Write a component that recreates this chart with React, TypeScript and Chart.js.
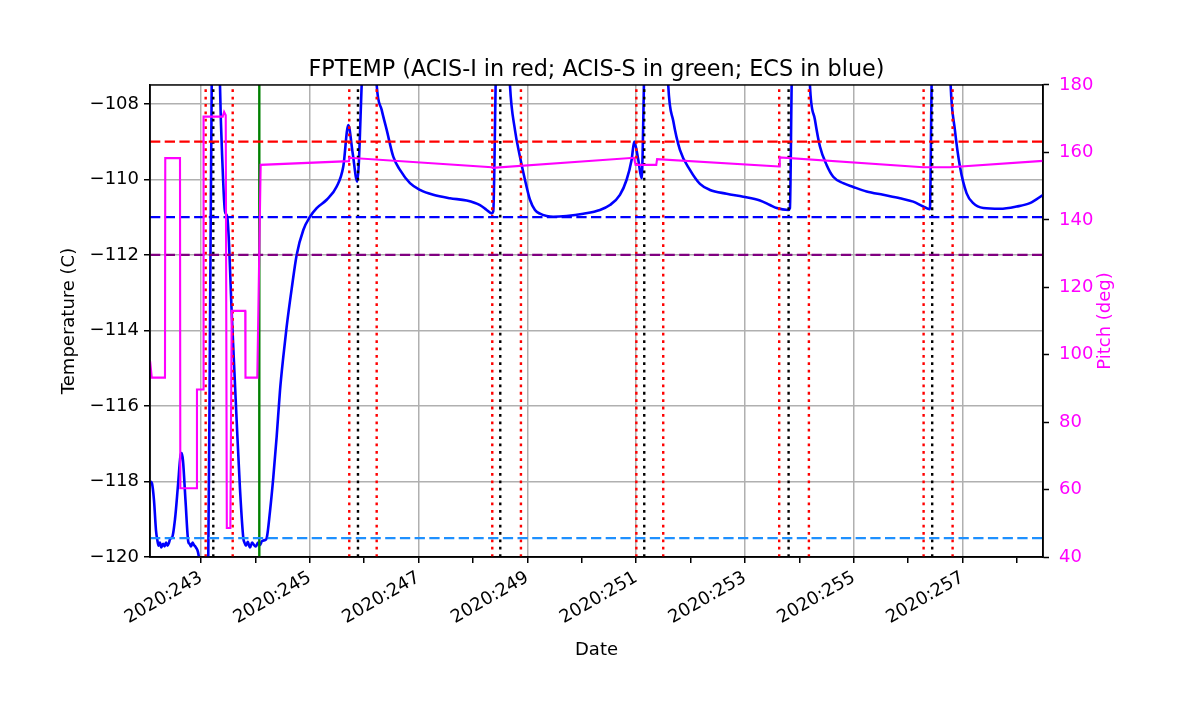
import React, { useEffect, useRef } from 'react';
import { Chart, registerables } from 'chart.js';

Chart.register(...registerables);

// ---- Data (day-of-year 2020) ----
const fpDays = [
  242.072, 242.099, 242.136, 242.173, 242.197, 242.220, 242.246, 242.270, 242.302, 242.330,
  242.357, 242.385, 242.412, 242.440, 242.461, 242.522, 242.577, 242.623, 242.645, 242.669,
  242.715, 242.767, 242.790, 242.816, 242.845, 242.871, 242.908, 242.945, 242.969, 243.000,
  243.092, 243.134, 243.165, 243.197, 243.239, 243.313, 243.349, 243.395, 243.441, 243.484,
  243.570, 243.656, 243.717, 243.778, 243.800, 243.827, 243.860, 243.901, 243.940, 243.974,
  244.010, 244.048, 244.085, 244.121, 244.180, 244.208, 244.268, 244.329, 244.392, 244.452,
  244.513, 244.575, 244.667, 244.759, 244.881, 245.004, 245.127, 245.311, 245.495, 245.616,
  245.708, 245.789, 245.873, 245.954, 246.033, 246.125, 246.230, 246.322, 246.414, 246.535,
  246.658, 246.842, 247.026, 247.270, 247.577, 247.884, 248.129, 248.252, 248.344, 248.373,
  248.417, 248.460, 248.588, 248.680, 248.772, 248.864, 248.956, 249.048, 249.140, 249.232,
  249.355, 249.476, 249.722, 250.028, 250.335, 250.518, 250.702, 250.825, 250.917, 250.965,
  251.039, 251.101, 251.143, 251.180, 251.511, 251.590, 251.682, 251.805, 251.989, 252.173,
  252.357, 252.664, 252.969, 253.276, 253.460, 253.583, 253.796, 253.827, 253.859, 253.901,
  254.121, 254.195, 254.287, 254.379, 254.502, 254.623, 254.807, 254.991, 255.237, 255.542,
  255.850, 256.094, 256.278, 256.401, 256.432, 256.475, 256.714, 256.782, 256.860, 256.953,
  257.076, 257.197, 257.381, 257.688, 257.995, 258.239, 258.484,
];
const fpTemp = [
  -118.0, -118.05, -118.5, -119.3, -119.55, -119.7, -119.62, -119.75, -119.65, -119.72,
  -119.62, -119.7, -119.62, -119.5, -119.5, -119.0, -118.1, -117.32, -117.25, -117.45,
  -118.5, -119.6, -119.65, -119.72, -119.62, -119.68, -119.75, -119.87, -120.1, -120.7,
  -120.8, -120.0, -114.0, -107.5, -104.0, -104.0, -107.5, -109.6, -110.85, -111.0,
  -113.7, -116.4, -118.2, -119.5, -119.62, -119.7, -119.6, -119.75, -119.62, -119.68,
  -119.72, -119.62, -119.68, -119.58, -119.55, -119.5, -118.8, -117.9, -116.8, -115.6,
  -114.7, -113.9, -112.9, -112.0, -111.34, -110.99, -110.76, -110.54, -110.19, -109.66,
  -108.56, -109.31, -110.06, -107.5, -104.0, -104.0, -107.5, -108.16, -108.69, -109.4,
  -109.75, -110.1, -110.28, -110.41, -110.5, -110.56, -110.68, -110.81, -110.9, -110.85,
  -107.5, -104.0, -104.0, -107.5, -108.69, -109.4, -110.01, -110.54, -110.81, -110.91,
  -110.97, -110.99, -110.97, -110.91, -110.81, -110.68, -110.41, -110.01, -109.48, -109.0,
  -109.48, -109.97, -107.5, -104.0, -104.0, -107.5, -108.45, -109.22, -109.75, -110.12,
  -110.28, -110.38, -110.46, -110.56, -110.68, -110.76, -110.81, -110.76, -107.5, -104.0,
  -104.0, -107.5, -108.42, -109.13, -109.62, -109.93, -110.1, -110.2, -110.32, -110.41,
  -110.5, -110.59, -110.72, -110.79, -107.5, -104.0, -104.0, -107.5, -108.69, -109.66,
  -110.37, -110.63, -110.76, -110.78, -110.72, -110.63, -110.41,
];

const pitchDays = [
  242.065, 242.095, 242.338, 242.343, 242.614, 242.620, 242.921, 242.926, 243.042, 243.047,
  243.399, 243.425, 243.455, 243.475, 243.540, 243.565, 243.813, 243.818, 244.035, 244.097,
  245.720, 245.730, 248.345, 248.360, 250.960, 250.990, 251.370, 251.385, 253.630, 253.640,
  256.276, 256.770, 258.480,
];
const pitchDeg = [
  98.0, 93.2, 93.2, 158.3, 158.3, 60.4, 60.4, 89.7, 89.7, 170.6,
  170.6, 172.0, 171.0, 48.6, 48.6, 113.0, 113.0, 93.2, 93.2, 156.3,
  157.4, 158.4, 155.6, 155.4, 158.4, 156.3, 156.3, 158.0, 155.8, 158.5,
  155.6, 155.6, 157.5,
];

const redDotDays = [243.086, 243.583, 245.726, 246.230, 248.355, 248.882, 251.004, 251.498, 253.630, 254.176, 256.285, 256.818];
const blackDotDays = [243.226, 245.886, 248.502, 251.149, 253.803, 256.443];
const greenDays = [244.072];

const limitValues = [-109, -111, -112, -119.5];
const limitColors = ['red', 'blue', 'purple', 'dodgerblue'];

const xMin = 242.0625;
const xMax = 258.48;
const tempMin = -120;
const tempMax = -107.5;
const pitchMin = 40;
const pitchMax = 180;

const TITLE = 'FPTEMP (ACIS-I in red; ACIS-S in green; ECS in blue)';
const PITCH_LABEL = 'Pitch (deg)';
const FONT = 'DejaVu Sans';
const TICK_SIZE = 18;

const framePlugin = {
  id: 'frame',
  afterDatasetsDraw(chart: any) {
    const { ctx, chartArea: a } = chart;
    ctx.save();
    ctx.strokeStyle = '#000';
    ctx.lineWidth = 1.5;
    ctx.strokeRect(a.left, a.top, a.right - a.left, a.bottom - a.top);
    ctx.restore();
  },
};

// right-axis title drawn reading bottom-to-top (like matplotlib)
const pitchTitlePlugin = {
  id: 'pitchTitle',
  afterDraw(chart: any) {
    const s = chart.scales.y1;
    const a = chart.chartArea;
    const ctx = chart.ctx;
    ctx.save();
    ctx.translate(s.right - (TICK_SIZE * 1.2) / 2 - 4, (a.top + a.bottom) / 2);
    ctx.rotate(-Math.PI / 2);
    ctx.fillStyle = 'magenta';
    ctx.font = `${TICK_SIZE}px "${FONT}"`;
    ctx.textAlign = 'center';
    ctx.textBaseline = 'middle';
    ctx.fillText(PITCH_LABEL, 0, 0);
    ctx.restore();
  },
};

export default function App() {
  const ref = useRef<HTMLCanvasElement | null>(null);

  useEffect(() => {
    if (!ref.current) return;
    Chart.defaults.font.family = FONT;
    Chart.defaults.color = '#000';

    const dotted = [2.78, 4.6];
    const dashed = [10.3, 4.4];

    const vline = (d: number, color: string, dash: number[], width: number) => ({
      type: 'line' as const,
      data: [{ x: d, y: tempMin }, { x: d, y: tempMax }],
      borderColor: color,
      borderWidth: width,
      borderDash: dash,
      pointRadius: 0,
      xAxisID: 'x',
      yAxisID: 'y',
      clip: 0,
      borderCapStyle: 'butt' as const,
    });
    const hline = (v: number, color: string) => ({
      type: 'line' as const,
      data: [{ x: xMin, y: v }, { x: xMax, y: v }],
      borderColor: color,
      borderWidth: 2.4,
      borderDash: dashed,
      pointRadius: 0,
      xAxisID: 'x',
      yAxisID: 'y',
      clip: 0,
    });

    const datasets: any[] = [];
    // topmost first
    datasets.push({
      type: 'line',
      data: pitchDays.map((d, i) => ({ x: d, y: pitchDeg[i] })),
      borderColor: 'magenta',
      borderWidth: 2.1,
      pointRadius: 0,
      xAxisID: 'x',
      yAxisID: 'y1',
      clip: 0,
    });
    limitValues.forEach((v, i) => datasets.push(hline(v, limitColors[i])));
    greenDays.forEach((d) => datasets.push(vline(d, 'green', [], 2.4)));
    blackDotDays.forEach((d) => datasets.push(vline(d, 'black', dotted, 2.4)));
    redDotDays.forEach((d) => datasets.push(vline(d, 'red', dotted, 2.4)));
    datasets.push({
      type: 'line',
      data: fpDays.map((d, i) => ({ x: d, y: fpTemp[i] })),
      borderColor: 'blue',
      borderWidth: 2.6,
      pointRadius: 0,
      xAxisID: 'x',
      yAxisID: 'y',
      clip: 0,
      cubicInterpolationMode: 'monotone',
      borderJoinStyle: 'round',
    });

    const tickFont = { family: FONT, size: TICK_SIZE };

    const chart = new Chart(ref.current, {
      type: 'line',
      data: { datasets },
      plugins: [framePlugin, pitchTitlePlugin],
      options: {
        animation: false,
        responsive: false,
        devicePixelRatio: 1,
        events: [],
        layout: { padding: { left: 55, right: 80, top: 0, bottom: 49 } },
        plugins: {
          legend: { display: false },
          tooltip: { enabled: false },
          title: {
            display: true,
            text: TITLE,
            fullSize: false,
            color: '#000',
            font: { family: FONT, size: 22.3, weight: 'normal' },
            padding: { top: 56.6, bottom: 1.6 },
          },
        },
        scales: {
          x: {
            type: 'linear',
            position: 'bottom',
            min: xMin,
            max: xMax,
            afterFit: (s: any) => { s.height = 108; },
            ticks: {
              stepSize: 1,
              includeBounds: false,
              autoSkip: false,
              minRotation: 30,
              maxRotation: 30,
              padding: 4,
              color: '#000',
              font: tickFont,
              callback: (v: any) => (Math.round(v) % 2 === 1 ? '2020:' + Math.round(v) : ''),
            },
            grid: {
              color: (c: any) => (c.tick && Math.round(c.tick.value) % 2 === 1 ? '#b0b0b0' : 'rgba(0,0,0,0)'),
              lineWidth: 1.5,
              tickColor: '#000',
              tickLength: 6,
              tickWidth: 1.5,
            },
            border: { color: '#000', width: 1.5 },
            title: { display: true, text: 'Date', color: '#000', font: tickFont, padding: { top: 4, bottom: 4 } },
          },
          y: {
            type: 'linear',
            position: 'left',
            min: tempMin,
            max: tempMax,
            afterFit: (s: any) => { s.width = 95; },
            ticks: {
              stepSize: 2,
              includeBounds: false,
              padding: 5,
              color: '#000',
              font: tickFont,
              callback: (v: any) => (v < 0 ? '\u2212' + Math.abs(v) : String(v)),
            },
            grid: { color: '#b0b0b0', lineWidth: 1.5, tickColor: '#000', tickLength: 6, tickWidth: 1.5 },
            border: { color: '#000', width: 1.5 },
            title: { display: true, text: 'Temperature (C)', color: '#000', font: tickFont, padding: { top: 4, bottom: 4 } },
          },
          y1: {
            type: 'linear',
            position: 'right',
            min: pitchMin,
            max: pitchMax,
            afterFit: (s: any) => { s.width = 77; },
            ticks: { stepSize: 20, padding: 10, color: 'magenta', font: tickFont },
            grid: { drawOnChartArea: false, tickColor: '#000', tickLength: 6, tickWidth: 1.5 },
            border: { color: '#000', width: 1.5 },
            title: { display: false },
          },
        },
      } as any,
    });
    return () => chart.destroy();
  }, []);

  return (
    <div style={{ position: 'absolute', left: 0, top: 0, width: 1200, height: 714, background: '#fff' }}>
      <canvas ref={ref} width={1200} height={714} style={{ width: 1200, height: 714 }} />
    </div>
  );
}
